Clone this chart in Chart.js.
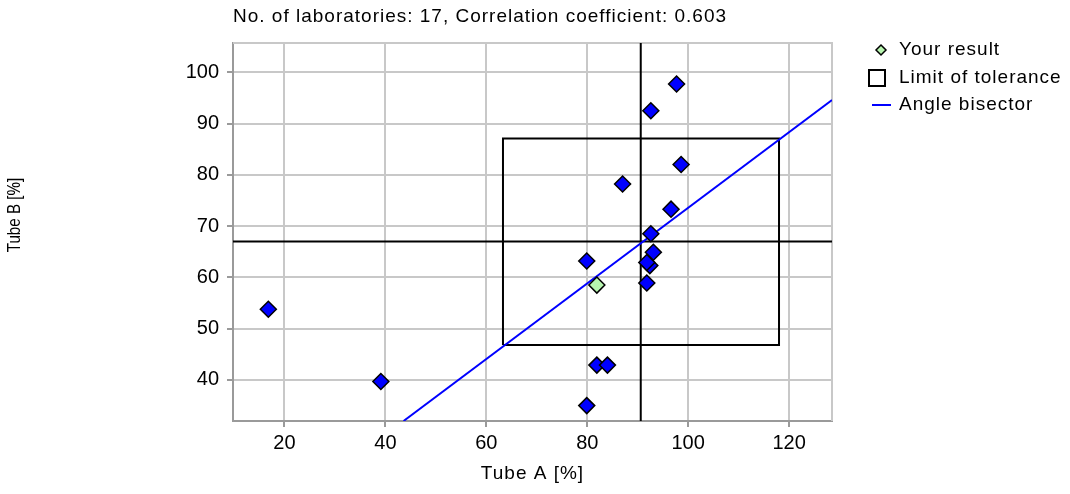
<!DOCTYPE html>
<html>
<head>
<meta charset="utf-8">
<script src="https://cdn.jsdelivr.net/npm/chart.js@4.4.1/dist/chart.umd.min.js"></script>
<style>
  html, body { margin: 0; padding: 0; background: #fff; }
  #wrap { width: 1070px; height: 494px; }
</style>
</head>
<body>
<div id="wrap"><canvas id="chart"></canvas></div>
<script>
// lab results (Tube A, Tube B) in %
const tubeA = [97.7, 92.6, 98.6, 87.0, 96.6, 92.6, 93.1, 92.4, 91.8, 91.8, 79.9, 81.9, 84.0, 79.9, 16.8, 39.1];
const tubeB = [97.7, 92.5, 82.0, 78.2, 73.3, 68.5, 64.9, 62.3, 62.9, 58.9, 63.2, 42.9, 42.9, 35.0, 53.8, 39.7];

// own result
const ownA = [81.9];
const ownB = [58.5];

// target values and tolerance limits
const targetA = 90.6;
const targetB = 67.0;
const limitA = [63.3, 118.0];
const limitB = [46.8, 87.1];

// angle bisector end points
const bisectorA = [43.6, 128.5];
const bisectorB = [32.0, 94.6];

// axes
const xRange = [9.8, 128.5];
const yRange = [32.0, 105.7];
const xTicks = [20, 40, 60, 80, 100, 120];
const yTicks = [40, 50, 60, 70, 80, 90, 100];

const titleText = 'No. of laboratories: 17, Correlation coefficient: 0.603';
const xTitle = 'Tube A [%]';
const yTitle = 'Tube B [%]';
const legendLabels = ['Your result', 'Limit of tolerance', 'Angle bisector'];

const FONT = '"Liberation Sans", Arial, sans-serif';

const toPoints = (xs, ys) => xs.map((x, i) => ({x: x, y: ys[i]}));

const boxPoints = [
    {x: limitA[0], y: limitB[0]},
    {x: limitA[1], y: limitB[0]},
    {x: limitA[1], y: limitB[1]},
    {x: limitA[0], y: limitB[1]},
    {x: limitA[0], y: limitB[0]}
];

// frame, titles and legend drawn on the canvas
const decorations = {
    id: 'decorations',
    beforeDatasetsDraw(chart) {
        const {ctx, chartArea: a} = chart;
        ctx.save();
        ctx.strokeStyle = '#c8c8c8';
        ctx.lineWidth = 2;
        ctx.beginPath();
        ctx.moveTo(a.left, a.top);
        ctx.lineTo(a.right, a.top);
        ctx.lineTo(a.right, a.bottom);
        ctx.stroke();
        ctx.restore();
    },
    afterDraw(chart) {
        const {ctx, chartArea: a} = chart;
        ctx.save();
        ctx.fillStyle = '#000';
        ctx.textBaseline = 'middle';
        ctx.letterSpacing = '1px';

        // title
        ctx.font = '19px ' + FONT;
        ctx.textAlign = 'left';
        ctx.fillText(titleText, a.left, 17);

        // x axis title
        ctx.textAlign = 'center';
        ctx.fillText(xTitle, (a.left + a.right) / 2, 474);

        // y axis title
        ctx.save();
        ctx.letterSpacing = '0px';
        ctx.translate(15, 215);
        ctx.rotate(-Math.PI / 2);
        ctx.scale(0.8, 1);
        ctx.fillText(yTitle, 0, 0);
        ctx.restore();

        // legend
        const lx = 899;
        const rows = [50, 78, 105];
        ctx.textAlign = 'left';
        legendLabels.forEach((t, i) => ctx.fillText(t, lx, rows[i]));

        // diamond
        ctx.beginPath();
        ctx.moveTo(881, rows[0] - 5);
        ctx.lineTo(886, rows[0]);
        ctx.lineTo(881, rows[0] + 5);
        ctx.lineTo(876, rows[0]);
        ctx.closePath();
        ctx.fillStyle = '#b8f5b0';
        ctx.fill();
        ctx.strokeStyle = '#000';
        ctx.lineWidth = 1.5;
        ctx.stroke();

        // square
        ctx.lineWidth = 2;
        ctx.strokeRect(869, rows[1] - 8, 16, 16);

        // line
        ctx.strokeStyle = '#0000ff';
        ctx.lineWidth = 2;
        ctx.beginPath();
        ctx.moveTo(872, rows[2]);
        ctx.lineTo(891, rows[2]);
        ctx.stroke();
        ctx.restore();
    }
};

const ctx = document.getElementById('chart').getContext('2d');

const chart = new Chart(ctx, {
    type: 'scatter',
    data: {
        datasets: [
            {
                label: 'Your result',
                data: toPoints(ownA, ownB),
                pointStyle: 'rectRot',
                pointRadius: 8,
                backgroundColor: '#b8f5b0',
                borderColor: '#000',
                borderWidth: 1.5
            },
            {
                label: 'Laboratories',
                data: toPoints(tubeA, tubeB),
                pointStyle: 'rectRot',
                pointRadius: 8,
                backgroundColor: '#0000ff',
                borderColor: '#000',
                borderWidth: 1.5
            },
            {
                label: 'Angle bisector',
                data: toPoints(bisectorA, bisectorB),
                showLine: true,
                pointRadius: 0,
                borderColor: '#0000ff',
                borderWidth: 2
            },
            {
                label: 'Limit of tolerance',
                data: boxPoints,
                showLine: true,
                pointRadius: 0,
                borderColor: '#000',
                borderWidth: 2
            },
            {
                label: 'Target A',
                data: [{x: targetA, y: yRange[0]}, {x: targetA, y: yRange[1]}],
                showLine: true,
                pointRadius: 0,
                borderColor: '#000',
                borderWidth: 2
            },
            {
                label: 'Target B',
                data: [{x: xRange[0], y: targetB}, {x: xRange[1], y: targetB}],
                showLine: true,
                pointRadius: 0,
                borderColor: '#000',
                borderWidth: 2
            }
        ]
    },
    options: {
        responsive: true,
        maintainAspectRatio: false,
        animation: false,
        layout: {
            padding: {left: 0, top: 43, right: 238, bottom: 0}
        },
        plugins: {
            legend: {display: false},
            tooltip: {enabled: false},
            title: {display: false}
        },
        scales: {
            x: {
                type: 'linear',
                min: xRange[0],
                max: xRange[1],
                afterBuildTicks: (s) => { s.ticks = xTicks.map(v => ({value: v})); },
                afterFit: (s) => { s.height = 73; },
                grid: {color: '#c8c8c8', lineWidth: 2, tickColor: '#9a9a9a', tickLength: 6},
                border: {color: '#9a9a9a', width: 2},
                ticks: {color: '#000', padding: 4, font: {family: FONT, size: 20}}
            },
            y: {
                type: 'linear',
                min: yRange[0],
                max: yRange[1],
                afterBuildTicks: (s) => { s.ticks = yTicks.map(v => ({value: v})); },
                afterFit: (s) => { s.width = 233; },
                grid: {color: '#c8c8c8', lineWidth: 2, tickColor: '#9a9a9a', tickLength: 6},
                border: {color: '#9a9a9a', width: 2},
                ticks: {color: '#000', padding: 8, font: {family: FONT, size: 20}}
            }
        }
    },
    plugins: [decorations]
});
</script>
</body>
</html>
